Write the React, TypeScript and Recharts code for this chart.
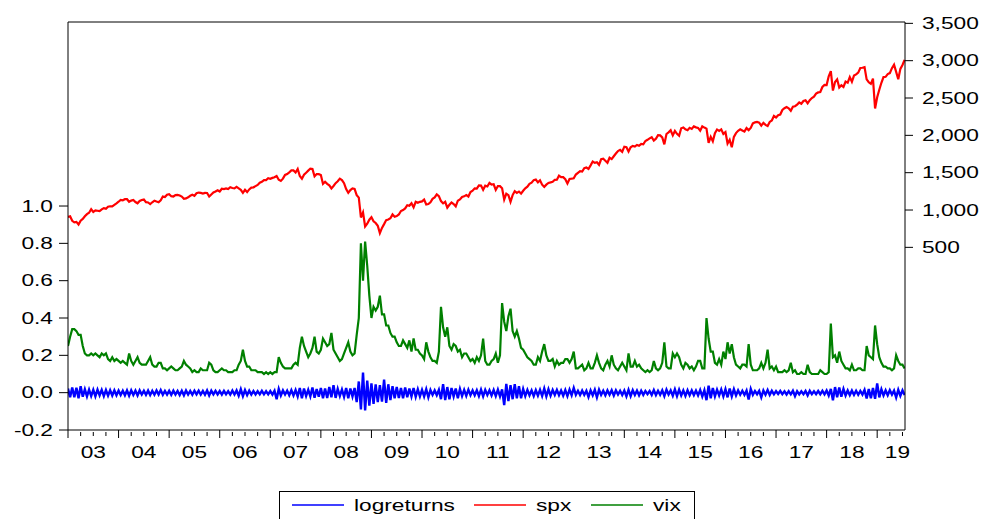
import { Line, LineChart, ReferenceLine, XAxis, YAxis } from 'recharts'

const START_YEAR = 2003
const STEPS_PER_YEAR = 24 // two readings a month, on the 1st and the 16th
const X_END = 2019.55
const LEFT_MAX = 1.986

const yearLabels = ['03', '04', '05', '06', '07', '08', '09', '10', '11', '12', '13', '14', '15', '16', '17', '18', '19']
const leftTicks = [-0.2, 0, 0.2, 0.4, 0.6, 0.8, 1.0]
const rightTicks = [500, 1000, 1500, 2000, 2500, 3000, 3500]

const spx = [
  909, 915, 856, 835, 841, 805, 858, 880, 916, 945, 963, 1010, 975, 995, 990, 985, 1008, 1025, 1018, 1045, 1050, 1050, 1070, 1090,
  1111, 1135, 1131, 1145, 1145, 1110, 1126, 1135, 1107, 1090, 1121, 1135, 1140, 1105, 1101, 1080, 1104, 1125, 1114, 1105, 1130, 1180, 1173, 1205,
  1212, 1185, 1181, 1200, 1203, 1195, 1180, 1150, 1156, 1170, 1191, 1205, 1191, 1225, 1234, 1230, 1220, 1230, 1228, 1180, 1207, 1235, 1249, 1265,
  1248, 1285, 1280, 1290, 1280, 1305, 1295, 1290, 1310, 1290, 1270, 1230, 1270, 1240, 1276, 1300, 1304, 1320, 1336, 1365, 1378, 1400, 1400, 1425,
  1418, 1430, 1438, 1455, 1406, 1390, 1420, 1470, 1482, 1505, 1530, 1530, 1503, 1550, 1455, 1420, 1474, 1500, 1527, 1555, 1549, 1450, 1481, 1480,
  1468, 1350, 1378, 1350, 1330, 1290, 1322, 1360, 1385, 1420, 1400, 1360, 1280, 1230, 1267, 1290, 1282, 1200, 1166, 900, 968, 780, 816, 870,
  903, 850, 826, 790, 690, 760, 811, 865, 873, 890, 942, 910, 919, 940, 987, 1000, 1021, 1065, 1057, 1090, 1036, 1110, 1096, 1110,
  1115, 1140, 1074, 1080, 1104, 1150, 1169, 1210, 1187, 1120, 1089, 1110, 1031, 1070, 1102, 1080, 1049, 1125, 1141, 1175, 1183, 1200, 1181, 1240,
  1258, 1290, 1286, 1330, 1327, 1270, 1326, 1315, 1364, 1340, 1345, 1270, 1321, 1320, 1292, 1140, 1219, 1200, 1110, 1200, 1253, 1230, 1247, 1220,
  1258, 1290, 1312, 1350, 1366, 1400, 1408, 1370, 1398, 1340, 1310, 1340, 1362, 1370, 1379, 1405, 1406, 1460, 1440, 1440, 1412, 1355, 1416, 1420,
  1426, 1475, 1498, 1520, 1515, 1560, 1569, 1550, 1598, 1650, 1631, 1640, 1606, 1680, 1686, 1660, 1633, 1700, 1682, 1720, 1757, 1790, 1806, 1780,
  1848, 1840, 1783, 1840, 1859, 1850, 1872, 1860, 1884, 1880, 1924, 1940, 1960, 1975, 1931, 1955, 2003, 2000, 1972, 1880, 2018, 2040, 2068, 2000,
  2059, 2020, 1995, 2095, 2105, 2080, 2068, 2100, 2086, 2120, 2107, 2100, 2063, 2120, 2104, 2090, 1900, 1980, 1920, 2030, 2079, 2060, 2080, 2020,
  2044, 1890, 1940, 1840, 1980, 2030, 2060, 2080, 2065, 2050, 2097, 2070, 2099, 2160, 2174, 2180, 2171, 2130, 2168, 2140, 2126, 2180, 2199, 2260,
  2239, 2270, 2279, 2340, 2364, 2380, 2363, 2330, 2384, 2390, 2412, 2440, 2423, 2460, 2470, 2430, 2472, 2500, 2519, 2560, 2575, 2580, 2648, 2675,
  2674, 2790, 2860, 2600, 2714, 2750, 2641, 2670, 2648, 2720, 2705, 2780, 2718, 2800, 2816, 2840, 2902, 2905, 2914, 2750, 2711, 2690, 2760, 2360,
  2510, 2610, 2704, 2780, 2784, 2820, 2834, 2900, 2946, 2850, 2752, 2890, 2942, 3010,
]

const vix = [
  0.25, 0.30, 0.34, 0.34, 0.33, 0.31, 0.31, 0.25, 0.21, 0.20, 0.20, 0.21, 0.20, 0.21, 0.20, 0.19, 0.21, 0.20, 0.21, 0.18, 0.17, 0.19, 0.17, 0.18,
  0.17, 0.16, 0.17, 0.16, 0.15, 0.21, 0.17, 0.15, 0.17, 0.19, 0.16, 0.15, 0.15, 0.15, 0.17, 0.19, 0.15, 0.14, 0.14, 0.16, 0.16, 0.13, 0.13, 0.12,
  0.13, 0.14, 0.13, 0.12, 0.12, 0.13, 0.14, 0.17, 0.15, 0.14, 0.13, 0.11, 0.12, 0.11, 0.11, 0.13, 0.12, 0.12, 0.12, 0.16, 0.15, 0.12, 0.11, 0.11,
  0.12, 0.13, 0.12, 0.12, 0.11, 0.11, 0.11, 0.12, 0.12, 0.15, 0.17, 0.23, 0.17, 0.14, 0.14, 0.12, 0.12, 0.12, 0.11, 0.11, 0.11, 0.10, 0.11, 0.10,
  0.11, 0.10, 0.11, 0.11, 0.19, 0.16, 0.14, 0.13, 0.13, 0.13, 0.13, 0.15, 0.16, 0.15, 0.24, 0.30, 0.25, 0.22, 0.19, 0.21, 0.24, 0.30, 0.22, 0.21,
  0.23, 0.29, 0.27, 0.25, 0.26, 0.32, 0.23, 0.21, 0.19, 0.17, 0.18, 0.21, 0.24, 0.27, 0.22, 0.20, 0.21, 0.31, 0.40, 0.80, 0.60, 0.81, 0.68, 0.52,
  0.40, 0.46, 0.44, 0.46, 0.52, 0.42, 0.42, 0.36, 0.36, 0.32, 0.30, 0.30, 0.27, 0.25, 0.25, 0.28, 0.26, 0.24, 0.28, 0.22, 0.29, 0.23, 0.23, 0.21,
  0.20, 0.18, 0.27, 0.22, 0.19, 0.17, 0.17, 0.16, 0.22, 0.46, 0.35, 0.30, 0.35, 0.25, 0.23, 0.26, 0.25, 0.22, 0.23, 0.19, 0.21, 0.21, 0.19, 0.17,
  0.18, 0.16, 0.19, 0.17, 0.20, 0.29, 0.17, 0.15, 0.15, 0.17, 0.18, 0.21, 0.16, 0.20, 0.48, 0.38, 0.33, 0.41, 0.45, 0.33, 0.30, 0.33, 0.29, 0.24,
  0.23, 0.21, 0.19, 0.18, 0.17, 0.15, 0.15, 0.19, 0.17, 0.22, 0.26, 0.20, 0.17, 0.17, 0.18, 0.14, 0.17, 0.15, 0.16, 0.16, 0.18, 0.18, 0.16, 0.18,
  0.22, 0.13, 0.13, 0.14, 0.15, 0.12, 0.13, 0.16, 0.13, 0.13, 0.16, 0.20, 0.16, 0.13, 0.12, 0.15, 0.17, 0.14, 0.20, 0.15, 0.13, 0.12, 0.14, 0.16,
  0.14, 0.12, 0.21, 0.14, 0.14, 0.17, 0.14, 0.15, 0.13, 0.12, 0.11, 0.12, 0.11, 0.12, 0.17, 0.13, 0.12, 0.13, 0.16, 0.27, 0.14, 0.13, 0.13, 0.21,
  0.19, 0.21, 0.19, 0.15, 0.13, 0.16, 0.15, 0.13, 0.14, 0.12, 0.14, 0.17, 0.17, 0.13, 0.13, 0.40, 0.29, 0.22, 0.22, 0.16, 0.15, 0.18, 0.15, 0.22,
  0.18, 0.27, 0.21, 0.26, 0.19, 0.15, 0.14, 0.13, 0.15, 0.15, 0.14, 0.26, 0.15, 0.12, 0.12, 0.12, 0.13, 0.16, 0.13, 0.16, 0.23, 0.13, 0.14, 0.12,
  0.14, 0.11, 0.11, 0.11, 0.12, 0.11, 0.12, 0.16, 0.11, 0.12, 0.10, 0.10, 0.11, 0.10, 0.10, 0.15, 0.11, 0.10, 0.10, 0.10, 0.10, 0.12, 0.11, 0.10,
  0.10, 0.11, 0.37, 0.19, 0.20, 0.16, 0.22, 0.17, 0.15, 0.13, 0.13, 0.12, 0.15, 0.12, 0.12, 0.13, 0.13, 0.12, 0.12, 0.25, 0.20, 0.19, 0.18, 0.36,
  0.26, 0.19, 0.16, 0.14, 0.14, 0.13, 0.13, 0.12, 0.13, 0.20, 0.17, 0.15, 0.15, 0.13,
]

const logreturns = [
  0.022, -0.025, 0.028, -0.024, 0.026, -0.030, 0.035, -0.022, 0.018, -0.020, 0.016, -0.018, 0.015, -0.020, 0.016, -0.014, 0.015, -0.018, 0.014, -0.016, 0.013, -0.015, 0.012, -0.014,
  0.011, -0.013, 0.010, -0.014, 0.012, -0.016, 0.013, -0.012, 0.011, -0.015, 0.012, -0.010, 0.010, -0.012, 0.011, -0.013, 0.010, -0.011, 0.012, -0.010, 0.014, -0.011, 0.009, -0.010,
  0.010, -0.012, 0.011, -0.010, 0.009, -0.013, 0.010, -0.014, 0.012, -0.010, 0.009, -0.011, 0.010, -0.009, 0.011, -0.010, 0.009, -0.011, 0.012, -0.015, 0.011, -0.009, 0.010, -0.009,
  0.009, -0.010, 0.010, -0.009, 0.008, -0.010, 0.011, -0.010, 0.012, -0.016, 0.018, -0.019, 0.014, -0.013, 0.011, -0.010, 0.009, -0.010, 0.008, -0.009, 0.010, -0.009, 0.008, -0.009,
  0.009, -0.010, 0.010, -0.035, 0.020, -0.015, 0.012, -0.010, 0.011, -0.014, 0.013, -0.015, 0.014, -0.020, 0.025, -0.030, 0.022, -0.018, 0.015, -0.020, 0.028, -0.027, 0.020, -0.022,
  0.025, -0.030, 0.022, -0.028, 0.030, -0.025, 0.040, -0.028, 0.020, -0.018, 0.017, -0.022, 0.025, -0.030, 0.022, -0.020, 0.025, -0.050, 0.060, -0.090, 0.108, -0.095, 0.065, -0.070,
  0.050, -0.060, 0.045, -0.050, 0.040, -0.048, 0.070, -0.055, 0.045, -0.040, 0.035, -0.030, 0.030, -0.028, 0.025, -0.030, 0.028, -0.025, 0.022, -0.020, 0.025, -0.022, 0.018, -0.020,
  0.015, -0.020, 0.018, -0.025, 0.014, -0.012, 0.012, -0.013, 0.015, -0.035, 0.045, -0.040, 0.030, -0.035, 0.025, -0.020, 0.022, -0.030, 0.020, -0.018, 0.015, -0.017, 0.016, -0.013,
  0.012, -0.014, 0.013, -0.018, 0.016, -0.020, 0.015, -0.012, 0.013, -0.015, 0.014, -0.018, 0.016, -0.020, 0.018, -0.067, 0.047, -0.045, 0.040, -0.035, 0.045, -0.030, 0.035, -0.030,
  0.020, -0.018, 0.015, -0.014, 0.012, -0.018, 0.013, -0.016, 0.015, -0.018, 0.022, -0.020, 0.018, -0.016, 0.014, -0.012, 0.015, -0.013, 0.012, -0.016, 0.014, -0.018, 0.016, -0.014,
  0.025, -0.012, 0.010, -0.013, 0.011, -0.012, 0.010, -0.023, 0.012, -0.014, 0.015, -0.025, 0.016, -0.012, 0.010, -0.014, 0.012, -0.011, 0.013, -0.015, 0.012, -0.010, 0.010, -0.013,
  0.011, -0.020, 0.015, -0.018, 0.013, -0.012, 0.011, -0.014, 0.010, -0.012, 0.009, -0.008, 0.009, -0.012, 0.014, -0.013, 0.010, -0.011, 0.013, -0.018, 0.016, -0.010, 0.012, -0.016,
  0.018, -0.018, 0.016, -0.015, 0.012, -0.017, 0.013, -0.014, 0.012, -0.013, 0.011, -0.015, 0.014, -0.020, 0.013, -0.040, 0.038, -0.030, 0.025, -0.020, 0.016, -0.015, 0.017, -0.020,
  0.018, -0.025, 0.022, -0.020, 0.018, -0.015, 0.012, -0.011, 0.010, -0.012, 0.011, -0.036, 0.020, -0.012, 0.009, -0.008, 0.010, -0.025, 0.012, -0.011, 0.014, -0.012, 0.010, -0.009,
  0.008, -0.007, 0.009, -0.008, 0.007, -0.010, 0.008, -0.009, 0.010, -0.018, 0.008, -0.009, 0.007, -0.008, 0.009, -0.015, 0.010, -0.008, 0.007, -0.008, 0.009, -0.008, 0.010, -0.009,
  0.012, -0.015, 0.020, -0.041, 0.030, -0.025, 0.028, -0.022, 0.020, -0.015, 0.012, -0.013, 0.011, -0.012, 0.010, -0.011, 0.009, -0.010, 0.015, -0.031, 0.020, -0.030, 0.025, -0.033,
  0.050, -0.025, 0.018, -0.015, 0.012, -0.014, 0.013, -0.010, 0.011, -0.026, 0.015, -0.017, 0.012, -0.013,
]

const data = spx.map((value, i) => ({
  t: START_YEAR + i / STEPS_PER_YEAR,
  spx: value,
  vix: vix[i],
  logreturns: logreturns[i],
}))

const quarterTicks: number[] = []
for (let q = START_YEAR * 4; q / 4 <= X_END; q++) quarterTicks.push(q / 4)
// year labels sit mid-year, the last one kept inside the plot
const labelAt = yearLabels.map((_, i) => Math.min(START_YEAR + i + 0.5, X_END - 0.15))
const xTicks = Array.from(new Set([...quarterTicks, ...labelAt])).sort((a, b) => a - b)

const FONT = '"Liberation Sans", Arial, sans-serif'
const STRETCH = 1.42

const XTick = ({ x, y, payload }: any) => {
  const v = payload.value as number
  const onQuarter = Number.isInteger(v * 4)
  const major = Number.isInteger(v)
  const li = labelAt.indexOf(v)
  return (
    <g>
      {onQuarter && (
        <line x1={x} x2={x} y1={y + (major ? 0 : 2)} y2={y + (major ? 8 : 6)} stroke="#000" />
      )}
      {li >= 0 && (
        <text
          transform={`translate(${x},${y + 28}) scale(${STRETCH},1)`}
          textAnchor="middle"
          fontFamily={FONT}
          fontSize={16}
          fill="#000"
        >
          {yearLabels[li]}
        </text>
      )}
    </g>
  )
}

const LeftTick = ({ x, y, payload }: any) => (
  <text
    transform={`translate(${x},${y}) scale(${STRETCH},1)`}
    textAnchor="end"
    dy="0.36em"
    fontFamily={FONT}
    fontSize={16}
    fill="#000"
  >
    {(payload.value as number).toFixed(1)}
  </text>
)

const RightTick = ({ x, y, payload }: any) => (
  <text
    transform={`translate(${x},${y}) scale(${STRETCH},1)`}
    textAnchor="start"
    dy="0.36em"
    fontFamily={FONT}
    fontSize={16}
    fill="#000"
  >
    {(payload.value as number).toLocaleString('en-US')}
  </text>
)

const legendItems = [
  { name: 'logreturns', color: '#0000ff', x: 13 },
  { name: 'spx', color: '#ff0000', x: 195 },
  { name: 'vix', color: '#008000', x: 312 },
]

const App = () => (
  <div style={{ position: 'absolute', left: 0, top: 0, width: 985, height: 519, background: '#fff' }}>
    <LineChart width={985} height={519} data={data} margin={{ top: 22, right: 0, bottom: 0, left: 0 }}>
      <XAxis
        xAxisId="main"
        dataKey="t"
        type="number"
        domain={[START_YEAR, X_END]}
        allowDataOverflow
        ticks={xTicks}
        interval={0}
        height={89}
        tickSize={0}
        tickMargin={0}
        tickLine={false}
        tick={XTick}
        axisLine={{ stroke: '#000' }}
      />
      <YAxis
        yAxisId="left"
        orientation="left"
        type="number"
        domain={[-0.2, LEFT_MAX]}
        allowDataOverflow
        ticks={leftTicks}
        interval={0}
        width={68}
        tickSize={9}
        tickMargin={6}
        tickLine={{ stroke: '#000' }}
        axisLine={{ stroke: '#000' }}
        tick={LeftTick}
      />
      <YAxis
        yAxisId="right"
        orientation="right"
        type="number"
        domain={[-1946, 3518]}
        allowDataOverflow
        ticks={rightTicks}
        interval={0}
        width={80}
        tickSize={8}
        tickMargin={9}
        tickLine={{ stroke: '#000' }}
        axisLine={{ stroke: '#000' }}
        tick={RightTick}
      />
      {/* top edge of the frame */}
      <ReferenceLine xAxisId="main" yAxisId="left" y={LEFT_MAX} stroke="#000" />
      <Line
        xAxisId="main"
        yAxisId="left"
        dataKey="logreturns"
        type="linear"
        stroke="#0000ff"
        strokeWidth={2.4}
        dot={false}
        isAnimationActive={false}
      />
      <Line
        xAxisId="main"
        yAxisId="right"
        dataKey="spx"
        type="linear"
        stroke="#ff0000"
        strokeWidth={2.2}
        dot={false}
        isAnimationActive={false}
      />
      <Line
        xAxisId="main"
        yAxisId="left"
        dataKey="vix"
        type="linear"
        stroke="#008000"
        strokeWidth={2.2}
        dot={false}
        isAnimationActive={false}
      />
    </LineChart>
    <svg width={416} height={28} style={{ position: 'absolute', left: 279, top: 491 }}>
      <rect x={0.5} y={0.5} width={415} height={40} fill="#fff" stroke="#000" />
      {legendItems.map((item) => (
        <g key={item.name}>
          <line x1={item.x} x2={item.x + 52} y1={14} y2={14} stroke={item.color} strokeWidth={1.5} />
          <text
            transform={`translate(${item.x + 62},14) scale(${STRETCH},1)`}
            dy="0.36em"
            fontFamily={FONT}
            fontSize={16}
            fill="#000"
          >
            {item.name}
          </text>
        </g>
      ))}
    </svg>
  </div>
)

export default App
